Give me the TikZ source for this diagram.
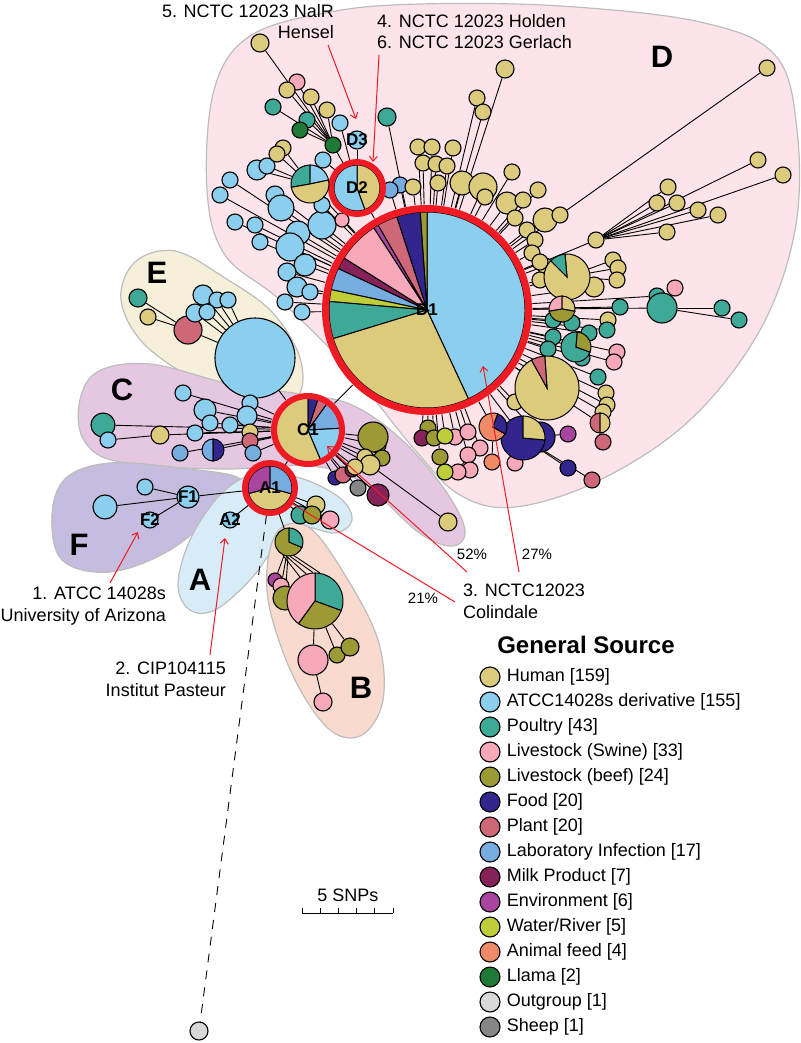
\documentclass[tikz,border=0pt]{standalone}
\usepackage{fontspec}
\setmainfont{Liberation Sans}
\usepackage{tikz}
\usetikzlibrary{arrows.meta,positioning,calc}
\definecolor{HumanTan}{HTML}{DCCB7C}
\definecolor{AtccBlue}{HTML}{8CCEED}
\definecolor{PoultryTeal}{HTML}{3EA996}
\definecolor{SwinePink}{HTML}{F7A9BA}
\definecolor{BeefOlive}{HTML}{9B9A34}
\definecolor{FoodNavy}{HTML}{33258E}
\definecolor{PlantRose}{HTML}{CE6879}
\definecolor{LabBlue}{HTML}{77ACE0}
\definecolor{MilkWine}{HTML}{87215A}
\definecolor{EnvPurple}{HTML}{A8459E}
\definecolor{WaterLime}{HTML}{BFCE38}
\definecolor{FeedOrange}{HTML}{EE8A66}
\definecolor{LlamaGreen}{HTML}{1E7A36}
\definecolor{OutgroupGray}{HTML}{D9D9D9}
\definecolor{SheepGray}{HTML}{868686}
\definecolor{RingRed}{HTML}{EE1B24}
\definecolor{HullD}{HTML}{FDE4EA}
\definecolor{HullE}{HTML}{F6F0DA}
\definecolor{HullC}{HTML}{E6C7E2}
\definecolor{HullF}{HTML}{C5BCDF}
\definecolor{HullA}{HTML}{D8ECF8}
\definecolor{HullB}{HTML}{F8DACF}
\definecolor{HullLine}{HTML}{BDBDBD}
\pgfdeclarelayer{hulls}
\pgfdeclarelayer{links}
\pgfsetlayers{hulls,links,main}
\newcommand{\pieslice}[5]{%
  \filldraw[fill=#5, line width=1pt] (#1.center) -- ++(#2:#4) arc[start angle=#2, end angle=#3, radius=#4] -- cycle;}
\newcommand{\strains}[1]{%
  \foreach \nm/\px/\py/\dd/\cc/\pa in {#1}{%
    \node[st=\dd, fill=\cc] (\nm) at (\px,\py) {};
    \begin{pgfonlayer}{links}\draw[link] (\pa) -- (\nm);\end{pgfonlayer}}}

\begin{document}
\begin{tikzpicture}[x=1pt, y=-1pt, >={Straight Barb[length=5pt,width=8pt]},
    st/.style={circle, draw, line width=1.1pt, inner sep=0pt, minimum size=#1},
    link/.style={line width=0.9pt},
    hull/.style={draw=HullLine, line width=1.2pt},
    ring/.style={draw=RingRed, line width=#1},
    tag/.style={font=\fontsize{17}{17}\selectfont\bfseries, inner sep=0pt},
    note/.style={font=\fontsize{18}{21.5}\selectfont, inner sep=0pt},
    pct/.style={font=\fontsize{15}{15}\selectfont, inner sep=0pt},
    clus/.style={font=\fontsize{31}{31}\selectfont\bfseries, inner sep=0pt},
    callout/.style={draw=RingRed, line width=1pt}]
  \useasboundingbox (0,0) rectangle (800,1043);

  \begin{pgfonlayer}{hulls}
    \path[hull, fill=HullD] plot[smooth cycle, tension=0.6] coordinates {(207,190) (214,90) (250,36) (330,12) (420,4) (560,6) (700,22) (775,55) (797,130) (795,230) (760,330) (690,420) (600,480) (515,507) (460,495) (415,450) (350,370) (280,300) (225,255)};
    \path[hull, fill=HullE] plot[smooth cycle, tension=0.6] coordinates {(121,300) (135,262) (175,251) (225,278) (272,312) (300,358) (298,396) (262,403) (205,385) (145,345)};
    \path[hull, fill=HullC] plot[smooth cycle, tension=0.6] coordinates {(79,405) (97,372) (150,364) (230,384) (300,394) (352,405) (402,440) (445,490) (465,530) (452,546) (418,532) (362,482) (310,466) (220,469) (120,462) (85,442)};
    \path[hull, fill=HullF] plot[smooth cycle, tension=0.6] coordinates {(52,515) (66,478) (110,463) (180,468) (240,479) (222,506) (170,550) (110,572) (62,560)};
    \path[hull, fill=HullA] plot[smooth cycle, tension=0.6] coordinates {(178,585) (190,540) (220,495) (255,474) (300,478) (340,498) (352,520) (335,533) (300,526) (280,540) (250,580) (215,610) (190,610)};
    \path[hull, fill=HullB] plot[smooth cycle, tension=0.6] coordinates {(268,560) (281,528) (310,528) (345,575) (378,640) (383,700) (362,735) (330,730) (295,680) (270,610)};
  \end{pgfonlayer}

  \node[st=210, draw=none] (d1) at (427,310) {};
  \node[st=54, draw=none] (d2) at (357,188) {};
  \node[st=74, draw=none] (c1) at (308,430) {};
  \node[st=54, draw=none] (a1) at (270,488) {};
  \node[st=38, draw=none] (dp1) at (310,184) {};
  \node[st=46, draw=none] (dpr) at (567,277) {};
  \node[st=26, draw=none] (dps) at (562,309) {};
  \node[st=30, draw=none] (dpt) at (576,347) {};
  \node[st=64, draw=none] (dpb) at (547,388) {};
  \node[st=20, draw=none] (dpp) at (600,423) {};
  \node[st=44, draw=none] (dpf) at (523,438) {};
  \node[st=28, draw=none] (dpo) at (493,427) {};
  \node[st=22, draw=none] (cpf) at (213,450) {};
  \node[st=28, draw=none] (bp1) at (289,542) {};
  \node[st=56, draw=none] (bp2) at (315,601) {};
  \begin{pgfonlayer}{links}
    \foreach \pa/\nm in {d1/d2, d1/c1, c1/a1, d1/dp1, d1/dpr, d1/dps, d1/dpt, d1/dpb, d1/dpp, d1/dpf, d1/dpo, c1/cpf, a1/bp1}
      \draw[link] (\pa) -- (\nm);
    \foreach \u/\v in {-115/122, -100/108, -85/94, -70/80}
      \draw[link] (bp1.\u) -- (bp2.\v);
  \end{pgfonlayer}

  \strains{dlm/333/145/16/LlamaGreen/d2, du1/260/43/18/HumanTan/dlm, du2/297/82/16/SwinePink/dlm,
    du3/287/90/16/HumanTan/dlm, du4/311/97/16/HumanTan/dlm, du5/327/110/16/HumanTan/dlm,
    du6/273/107/16/PoultryTeal/dlm, du7/307/120/16/PoultryTeal/dlm, du8/300/130/16/LlamaGreen/dlm,
    d3/357/140/18/AtccBlue/d2}
  \strains{dl1/257/170/20/AtccBlue/dp1, dl2/267/166/16/AtccBlue/dp1, dl3/230/180/16/AtccBlue/d1,
    dl4/220/195/16/AtccBlue/d1, dl5/235/222/16/AtccBlue/d1, dl6/255/225/16/AtccBlue/d1,
    dl7/275/195/18/AtccBlue/d1, dl8/281/208/26/AtccBlue/d1, dl9/298/233/24/AtccBlue/d1,
    dl10/322/225/28/AtccBlue/d1, dl11/290/247/28/AtccBlue/d1, dl12/260/242/16/AtccBlue/d1,
    dl13/305/265/22/AtccBlue/d1, dl14/287/272/18/AtccBlue/d1, dl15/297/287/20/AtccBlue/d1,
    dl16/310/292/16/AtccBlue/d1, dl17/285/302/16/AtccBlue/d1, dl18/302/312/16/AtccBlue/d1,
    dl19/322/205/16/AtccBlue/d1, dl20/342/220/14/SwinePink/d1, dl21/323/160/16/AtccBlue/d2,
    dl22/283/148/16/HumanTan/dp1, dl23/277/154/16/HumanTan/dp1, dl24/340/123/16/AtccBlue/d2,
    dl25/387/117/18/PoultryTeal/d1, dl26/400/185/16/LabBlue/d1}
  \strains{dt16/505/69/18/HumanTan/d1, dt17/477/98/16/HumanTan/d1, dt18/483/112/16/HumanTan/d1,
    dt1/418/147/16/HumanTan/d1, dt2/432/147/16/HumanTan/d1, dt3/453/148/16/HumanTan/d1,
    dt4/423/163/16/HumanTan/d1, dt5/436/164/16/HumanTan/d1, dt6/447/166/16/HumanTan/d1,
    dt7/413/187/16/HumanTan/d1, dt8/438/183/16/HumanTan/d1, dt9/462/183/24/HumanTan/d1,
    dt10/483/187/28/HumanTan/d1, dt11/512/172/16/HumanTan/d1, dt12/485/197/16/HumanTan/d1,
    dt13/507/203/22/HumanTan/d1, dt14/523/200/16/HumanTan/d1, dt15/538/190/16/HumanTan/d1,
    dt19/390/190/16/LabBlue/d1, dt20/527/230/16/HumanTan/d1, dt21/545/220/24/HumanTan/d1,
    dt22/560/215/16/HumanTan/d1, dt23/767/68/16/HumanTan/dt22, dt24/535/240/16/HumanTan/d1,
    dt25/532/253/16/HumanTan/d1, dt26/596/240/16/HumanTan/d1,
    dt27/657/203/16/HumanTan/dt26, dt28/668/187/16/HumanTan/dt26, dt29/677/203/16/HumanTan/dt26,
    dt30/698/210/16/HumanTan/dt26, dt31/718/215/16/HumanTan/dt26, dt32/667/232/16/HumanTan/dt26,
    dt33/758/160/16/HumanTan/dt26, dt34/783/175/16/HumanTan/dt26,
    dt35/515/218/16/HumanTan/d1, dt36/545/266/16/HumanTan/d1}
  \strains{dr1/594/287/20/HumanTan/d1, dr2/613/260/16/HumanTan/dpr, dr3/618/268/16/HumanTan/dpr,
    dr4/617/280/16/HumanTan/dpr, dr5/540/262/16/HumanTan/d1, dr5b/540/280/16/HumanTan/d1,
    dr6/553/320/16/PoultryTeal/d1, dr7/572/323/16/PoultryTeal/d1, dr8/620/307/16/PoultryTeal/d1,
    dr9/608/320/16/HumanTan/d1, dr10/607/330/16/PoultryTeal/d1, dr12/657/296/16/PoultryTeal/d1,
    dr11/662/308/30/PoultryTeal/d1, dr13/675/288/16/SwinePink/dr11, dr14/722/308/16/PoultryTeal/dr11,
    dr15/739/320/16/PoultryTeal/dr11, dr16/589/333/16/PoultryTeal/d1, dr17/553/337/16/PoultryTeal/d1,
    dr18/548/349/16/PoultryTeal/d1, dr19/582/358/16/PoultryTeal/d1, dr20/617/352/16/SwinePink/d1,
    dr21/614/362/16/SwinePink/d1, dr22/598/377/16/PoultryTeal/d1, dr23/606/393/16/HumanTan/d1,
    dr24/607/405/16/HumanTan/d1, dr25/603/412/16/HumanTan/d1, dr26/603/442/16/PlantRose/dpp,
    dr27/515/402/16/HumanTan/d1, dr28/540/437/30/FoodNavy/d1}
  \strains{db1/568/434/16/EnvPurple/dpf, db2/568/468/16/FoodNavy/dpf, db3/592/480/16/PlantRose/dpf,
    db4/515/463/16/SwinePink/dpf, db5/492/462/16/FeedOrange/dpo, db6/455/437/16/SwinePink/d1,
    db7/468/432/16/SwinePink/d1, db8/480/448/16/SwinePink/d1, db9/468/455/16/SwinePink/d1,
    db10/470/470/16/SwinePink/db9, db11/458/472/16/SwinePink/db9, db12/428/428/16/BeefOlive/d1,
    db13/422/438/16/MilkWine/d1, db14/434/438/16/BeefOlive/d1, db15/445/436/16/WaterLime/d1,
    db16/440/457/16/BeefOlive/d1, db17/445/472/16/WaterLime/db16}
  \strains{e1/255/358/80/AtccBlue/c1, e2/188/330/28/PlantRose/e1, e3/138/298/18/PoultryTeal/e2,
    e4/148/317/16/HumanTan/e2, e5/203/295/20/AtccBlue/e1, e6/217/300/16/AtccBlue/e1,
    e7/228/300/16/AtccBlue/e1, e8/195/313/18/AtccBlue/e1, e9/207/312/16/AtccBlue/e1}
  \strains{cl1/103/425/24/PoultryTeal/c1, cl3/160/435/18/HumanTan/c1, cl2/108/440/16/AtccBlue/cl3,
    cl4/183/393/16/AtccBlue/c1, cl5/205/410/22/AtccBlue/c1, cl6/210/423/16/AtccBlue/c1,
    cl7/195/433/16/AtccBlue/c1, cl8/180/453/16/LabBlue/c1, cl9/230/425/16/AtccBlue/c1,
    cl10/250/403/16/AtccBlue/c1, cl11/247/416/20/AtccBlue/c1, cl12/250/432/16/HumanTan/c1,
    cl13/250/441/16/PlantRose/c1, cl14/253/453/16/LabBlue/c1}
  \strains{cr7/335/478/14/FoodNavy/c1, cr8/343/475/16/PlantRose/c1, cr9/352/470/14/MilkWine/c1,
    cr1/378/445/16/BeefOlive/c1, cr2/373/437/30/BeefOlive/c1, cr3/382/458/16/BeefOlive/c1,
    cr4/365/457/16/HumanTan/c1, cr5/370/465/20/HumanTan/c1, cr6/355/467/16/HumanTan/c1,
    cr10/358/488/16/SheepGray/c1, cr11/378/495/22/MilkWine/c1, cr12/448/522/18/HumanTan/cr5}
  \strains{a2/230/520/16/AtccBlue/a1, ar1/300/515/18/PoultryTeal/a1, ar2/316/505/18/HumanTan/a1,
    ar3/312/515/18/BeefOlive/a1, ar4/330/520/18/SwinePink/a1, f1/188/497/22/AtccBlue/a1,
    f2/150/520/16/AtccBlue/f1, f3/145/487/16/AtccBlue/f1, f4/105/507/24/AtccBlue/f1}
  \strains{b1/275/580/14/EnvPurple/bp1, b2/281/586/16/SwinePink/bp1, b3/285/598/24/BeefOlive/bp1,
    b4/313/660/30/SwinePink/bp2, b5/337/655/16/BeefOlive/bp2, b6/350/647/18/BeefOlive/bp2,
    b7/323/702/18/SwinePink/b4}
  \node[st=18, fill=OutgroupGray] (og) at (199,1031) {};
  \begin{pgfonlayer}{links}
    \draw[link, dash pattern=on 9pt off 8pt] (a1) -- (og);
  \end{pgfonlayer}

  \pieslice{d1}{-65}{90}{98pt}{AtccBlue}
  \pieslice{d1}{90}{94}{98pt}{BeefOlive}
  \pieslice{d1}{94}{108}{98pt}{FoodNavy}
  \pieslice{d1}{108}{120}{98pt}{PlantRose}
  \pieslice{d1}{120}{123}{98pt}{EnvPurple}
  \pieslice{d1}{123}{148}{98pt}{SwinePink}
  \pieslice{d1}{148}{155}{98pt}{MilkWine}
  \pieslice{d1}{155}{168}{98pt}{LabBlue}
  \pieslice{d1}{168}{175}{98pt}{WaterLime}
  \pieslice{d1}{175}{197}{98pt}{PoultryTeal}
  \pieslice{d1}{197}{295}{98pt}{HumanTan}
  \draw[ring=7pt] (d1.center) circle[radius=101.5pt];
  \pieslice{d2}{-70}{90}{23pt}{HumanTan}
  \pieslice{d2}{90}{290}{23pt}{AtccBlue}
  \draw[ring=6pt] (d2.center) circle[radius=26pt];
  \pieslice{c1}{90}{293}{32pt}{HumanTan}
  \pieslice{c1}{72}{90}{32pt}{FoodNavy}
  \pieslice{c1}{54}{72}{32pt}{PlantRose}
  \pieslice{c1}{3}{54}{32pt}{LabBlue}
  \pieslice{c1}{-67}{3}{32pt}{AtccBlue}
  \draw[ring=6pt] (c1.center) circle[radius=34pt];
  \pieslice{a1}{90}{195}{22pt}{EnvPurple}
  \pieslice{a1}{195}{345}{22pt}{HumanTan}
  \pieslice{a1}{-15}{90}{22pt}{LabBlue}
  \draw[ring=6pt] (a1.center) circle[radius=25pt];
  \pieslice{dp1}{90}{190}{19pt}{PoultryTeal}
  \pieslice{dp1}{12}{90}{19pt}{AtccBlue}
  \pieslice{dp1}{190}{372}{19pt}{HumanTan}
  \pieslice{dpr}{135}{455}{23pt}{HumanTan}
  \pieslice{dpr}{95}{135}{23pt}{PoultryTeal}
  \pieslice{dps}{90}{190}{13pt}{SwinePink}
  \pieslice{dps}{-10}{90}{13pt}{HumanTan}
  \pieslice{dps}{190}{350}{13pt}{BeefOlive}
  \pieslice{dpt}{85}{340}{15pt}{PoultryTeal}
  \pieslice{dpt}{-20}{85}{15pt}{BeefOlive}
  \pieslice{dpb}{119}{454}{32pt}{HumanTan}
  \pieslice{dpb}{94}{119}{32pt}{PlantRose}
  \pieslice{dpp}{90}{270}{10pt}{PlantRose}
  \pieslice{dpp}{-90}{90}{10pt}{HumanTan}
  \pieslice{dpf}{90}{355}{22pt}{FoodNavy}
  \pieslice{dpf}{-5}{90}{22pt}{HumanTan}
  \pieslice{dpo}{70}{330}{14pt}{FeedOrange}
  \pieslice{dpo}{-30}{70}{14pt}{FoodNavy}
  \pieslice{cpf}{90}{270}{11pt}{LabBlue}
  \pieslice{cpf}{-90}{90}{11pt}{FoodNavy}
  \pieslice{bp1}{90}{337}{14pt}{BeefOlive}
  \pieslice{bp1}{-23}{90}{14pt}{PoultryTeal}
  \pieslice{bp2}{-20}{90}{28pt}{PoultryTeal}
  \pieslice{bp2}{90}{234}{28pt}{SwinePink}
  \pieslice{bp2}{234}{340}{28pt}{BeefOlive}

  \node[tag] (d1tag) at (d1.center) {D1};
  \node[tag] (d2tag) at (d2.center) {D2};
  \node[tag] (d3tag) at (d3.center) {D3};
  \node[tag] (c1tag) at (c1.center) {C1};
  \node[tag] (a1tag) at (a1.center) {A1};
  \node[tag] (a2tag) at (a2.center) {A2};
  \node[tag] (f1tag) at (f1.center) {F1};
  \node[tag] (f2tag) at (f2.center) {F2};

  \node[clus] (cD) at (662,57) {D};
  \node[clus] (cE) at (157,273) {E};
  \node[clus] (cC) at (122,390) {C};
  \node[clus] (cF) at (79,545) {F};
  \node[clus] (cA) at (200,580) {A};
  \node[clus] (cB) at (361,688) {B};

  \node[note, align=right, anchor=north east] (n5) at (334,4) {5. NCTC 12023 NalR\\Hensel};
  \node[note, align=left, anchor=north west] (n46) at (377,14) {4. NCTC 12023 Holden\\6. NCTC 12023 Gerlach};
  \node[note, align=right, anchor=north east] (n1) at (166,587) {1. ATCC 14028s\\University of Arizona};
  \node[note, align=right, anchor=north east] (n2) at (226,662) {2. CIP104115\\Institut Pasteur};
  \node[note, align=left, anchor=north west] (n3) at (463,584) {3. NCTC12023\\Colindale};
  \node[pct] (p52) at (472,554) {52\%};
  \node[pct] (p27) at (537,554) {27\%};
  \node[pct] (p21) at (423,598) {21\%};

  \coordinate (t5) at (328,45);   \coordinate (h5) at (356,119);
  \coordinate (t46) at (379,55);  \coordinate (h46) at (373,162);
  \coordinate (t1) at (110,583);  \coordinate (h1) at (138,532);
  \coordinate (t2) at (210,655);  \coordinate (h2) at (225,538);
  \coordinate (t3c) at (467,572); \coordinate (h3c) at (327,446);
  \coordinate (t3d) at (519,572); \coordinate (h3d) at (483,366);
  \coordinate (t3a) at (455,602); \coordinate (h3a) at (291,503);
  \foreach \t/\h in {t5/h5, t46/h46, t1/h1, t2/h2, t3c/h3c, t3d/h3d}
    \draw[callout, ->] (\t) -- (\h);
  \draw[callout] (t3a) -- (h3a);

  \coordinate (sbl) at (302,913);
  \coordinate (sbr) at (393,913);
  \draw[line width=1pt] (sbl) -- (sbr);
  \foreach \k in {0,...,5}
    \draw[line width=1pt] ($(sbl)!\k/5!(sbr)$) -- ++(0,-5);
  \node[note] (snp) at (348,895) {5 SNPs};

  \node[font=\fontsize{24}{24}\selectfont\bfseries, inner sep=0pt] (legtitle) at (586,645) {General Source};
  \foreach \cc/\lab [count=\i] in {HumanTan/Human [159], AtccBlue/ATCC14028s derivative [155],
      PoultryTeal/Poultry [43], SwinePink/Livestock (Swine) [33], BeefOlive/Livestock (beef) [24],
      FoodNavy/Food [20], PlantRose/Plant [20], LabBlue/Laboratory Infection [17],
      MilkWine/Milk Product [7], EnvPurple/Environment [6], WaterLime/{Water/River [5]},
      FeedOrange/Animal feed [4], LlamaGreen/Llama [2], OutgroupGray/Outgroup [1], SheepGray/Sheep [1]}{
    \node[st=20, fill=\cc] (key\i) at (490,652+25*\i) {};
    \node[note, right=6pt of key\i] (keytext\i) {\lab};
  }
\end{tikzpicture}
\end{document}
